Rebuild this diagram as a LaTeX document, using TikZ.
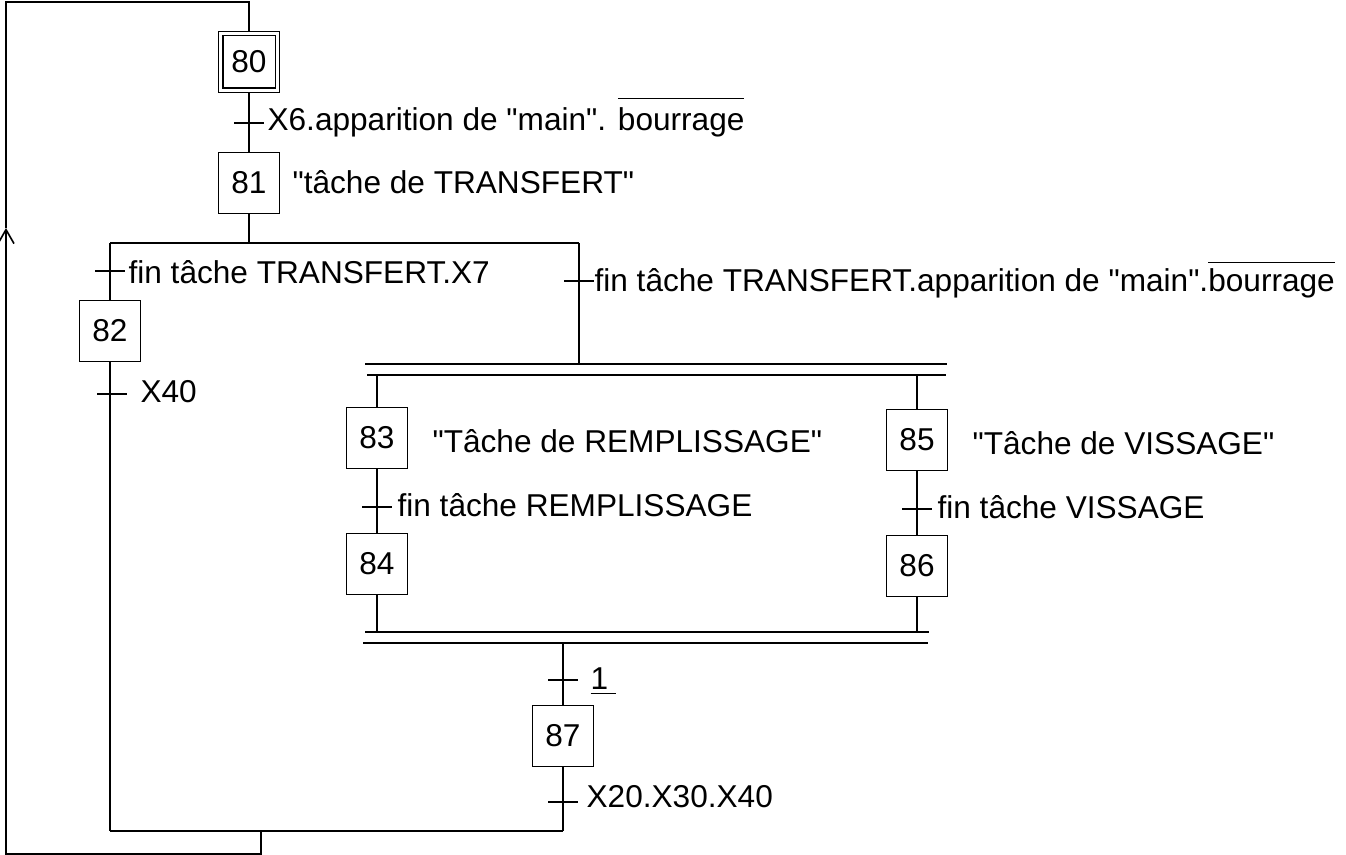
\documentclass[tikz,border=0pt]{standalone}
\usepackage{fontspec}
\setmainfont{Liberation Sans}
\usetikzlibrary{arrows.meta}
\newcommand\gfont{\fontsize{15.8pt}{19pt}\selectfont}
\newcommand\qq{\XeTeXglyph\XeTeXcharglyph"22\relax}
\newcommand\ovbar[2][4.5pt]{\vbox{\hrule height 0.6pt\kern #1\hbox{#2}}}
\newcommand\ulbar[1]{\vtop{\hbox{#1}\kern 1.4pt\hrule height 0.6pt}}
\begin{document}
\begin{tikzpicture}[x=0.5pt,y=-0.5pt,line width=0.6pt,
  stepbox/.style={draw, minimum width=30.5pt, minimum height=30.5pt, inner sep=0pt, font=\gfont},
  lbl/.style={anchor=base west, inner sep=0pt, font=\gfont},
  barb/.style={-{Straight Barb[length=7pt,width=8pt,line width=0.8pt]}}]
\useasboundingbox (0,0) rectangle (1346,855);

% steps
\node[stepbox] (s80) at (249,62) {80};
\draw ([shift={(5,5)}]s80.north west) rectangle ([shift={(-5,-5)}]s80.south east);
\node[stepbox] (s81) at (249,183) {81};
\node[stepbox] (s82) at (110,331) {82};
\node[stepbox] (s83) at (377,438) {83};
\node[stepbox] (s84) at (377,564) {84};
\node[stepbox] (s85) at (917,440) {85};
\node[stepbox] (s86) at (917,566) {86};
\node[stepbox] (s87) at (563,736) {87};

% junction coordinates
\coordinate (or1) at (249,243);
\coordinate (orL) at (110,243);
\coordinate (orR) at (579,243);
\coordinate (andA1) at (365,364); \coordinate (andA2) at (947,364);
\coordinate (andB1) at (367,375); \coordinate (andB2) at (946,375);
\coordinate (andC1) at (365,632); \coordinate (andC2) at (929,632);
\coordinate (andD1) at (363,643); \coordinate (andD2) at (928,643);
\coordinate (mrgL) at (110,831); \coordinate (mrgR) at (563,831); \coordinate (mrgJ) at (261,831);
\coordinate (botR) at (261,854); \coordinate (botL) at (6,854);
\coordinate (arr) at (6,228); \coordinate (topL) at (6,2); \coordinate (topR) at (249,2);

% transitions
\coordinate (t1) at (249,123);
\coordinate (t2) at (110,271);
\coordinate (t3) at (112,394);
\coordinate (t4) at (579,281);
\coordinate (t5) at (377,507);
\coordinate (t6) at (917,509);
\coordinate (t7) at (563,680);
\coordinate (t8) at (563,802);

% loop back
\draw[barb] (mrgJ) -- (botR) -- (botL) -- (arr);
\draw (arr) -- (topL) -- (topR) -- (s80.north);

% main sequence
\draw (s80.south) -- (s81.north);
\draw (s81.south) -- (or1);
\draw (orL) -- (orR);
\draw (orL) -- (s82.north);
\draw (s82.south) -- (mrgL);
\draw (orR) -- (orR |- andA1);
\draw (andA1) -- (andA2);
\draw (andB1) -- (andB2);
\draw (s83.north |- andB1) -- (s83.north);
\draw (s83.south) -- (s84.north);
\draw (s84.south) -- (s84.south |- andC1);
\draw (s85.north |- andB1) -- (s85.north);
\draw (s85.south) -- (s86.north);
\draw (s86.south) -- (s86.south |- andC1);
\draw (andC1) -- (andC2);
\draw (andD1) -- (andD2);
\draw (s87.north |- andD1) -- (s87.north);
\draw (s87.south) -- (mrgR);
\draw (mrgL) -- (mrgR);

% ticks
\foreach \t in {t1,t2,t3,t4,t5,t6,t7,t8}
  \draw (\t) ++(-15,0) -- ++(30,0);

% labels
\node[lbl] (l1) at (267,131) {X6.apparition de \qq main\qq. \ovbar[4.6pt]{bourrage}};
\node[lbl] (l81) at (292,194) {\qq tâche de TRANSFERT\qq};
\node[lbl] (l2) at (128,284) {fin tâche TRANSFERT.X7};
\node[lbl] (l3) at (140,403) {X40};
\node[lbl] (l4) at (594,292) {fin tâche TRANSFERT.apparition de \qq main\qq.\ovbar[2.8pt]{bourrage}};
\node[lbl] (l83) at (432,453) {\qq Tâche de REMPLISSAGE\qq};
\node[lbl] (l5) at (397,517) {fin tâche REMPLISSAGE};
\node[lbl] (l85) at (972,455) {\qq Tâche de VISSAGE\qq};
\node[lbl] (l6) at (937,519) {fin tâche VISSAGE};
\node[lbl] (l7) at (590,690) {\ulbar{1\kern4pt}};
\node[lbl] (l8) at (586,808) {X20.X30.X40};
\end{tikzpicture}
\end{document}
